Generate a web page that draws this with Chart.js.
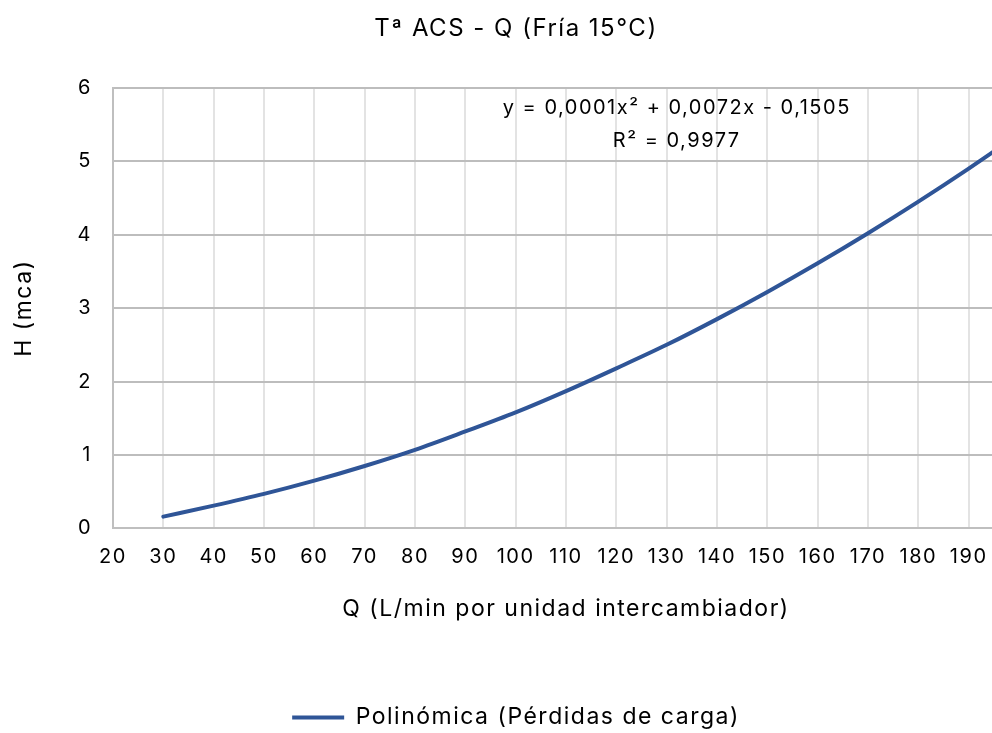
<!DOCTYPE html>
<html>
<head>
<meta charset="utf-8">
<script src="https://cdn.jsdelivr.net/npm/chart.js@4"></script>
<style>
  html, body { margin: 0; padding: 0; background: #fff; overflow: hidden; }
  #wrap { width: 992px; height: 733px; overflow: hidden; }
</style>
</head>
<body>
<div id="wrap"><canvas id="c" width="1036" height="733"></canvas></div>
<script>
// Q (L/min) vs H (mca)
const qValues = [30, 40, 50, 60, 70, 80, 90, 100, 110, 120, 130, 140, 150, 160, 170, 180, 190, 200];
const hValues = [0.16, 0.31, 0.47, 0.65, 0.85, 1.07, 1.32, 1.58, 1.87, 2.18, 2.50, 2.85, 3.22, 3.61, 4.02, 4.45, 4.90, 5.37];

const chartTitle = 'Tª ACS - Q (Fría 15°C)';
const xTitle = 'Q (L/min por unidad intercambiador)';
const yTitle = 'H (mca)';
const seriesLabel = 'Polinómica (Pérdidas de carga)';
const trendLines = ['y = 0,0001x² + 0,0072x - 0,1505', 'R² = 0,9977'];

const FONT = 'Inter, "Open Sans", sans-serif';
const BLUE = '#2f5597';
const SPACING = '1.5px'; // reference font is wider than anything installed

// widen glyph spacing for measuring and drawing
const spacing = {
  id: 'spacing',
  beforeLayout(chart) { chart.ctx.letterSpacing = SPACING; },
  beforeDraw(chart) { chart.ctx.letterSpacing = SPACING; },
};

// trendline equation inside the plot
const trendLabel = {
  id: 'trendLabel',
  afterDatasetsDraw(chart) {
    const { ctx, scales } = chart;
    const x = scales.x.getPixelForValue(132);
    ctx.save();
    ctx.fillStyle = '#000';
    ctx.font = '20px ' + FONT;
    ctx.textAlign = 'center';
    ctx.textBaseline = 'middle';
    ctx.fillText(trendLines[0], x, scales.y.getPixelForValue(5.73));
    ctx.fillText(trendLines[1], x, scales.y.getPixelForValue(5.28));
    ctx.restore();
  }
};

new Chart(document.getElementById('c'), {
  type: 'line',
  data: {
    datasets: [{
      label: seriesLabel,
      data: qValues.map((q, i) => ({ x: q, y: hValues[i] })),
      borderColor: BLUE,
      backgroundColor: BLUE,
      borderWidth: 4,
      borderCapStyle: 'round',
      pointRadius: 0,
      cubicInterpolationMode: 'monotone',
    }],
  },
  options: {
    responsive: false,
    animation: false,
    devicePixelRatio: 1,
    layout: { padding: { left: 12, right: 16, top: 0, bottom: -6 } },
    plugins: {
      title: {
        display: true,
        text: chartTitle,
        color: '#000',
        font: { family: FONT, size: 24, weight: 'normal' },
        padding: { top: 14, bottom: 45 },
      },
      legend: {
        position: 'bottom',
        labels: {
          color: '#000',
          font: { family: FONT, size: 23 },
          usePointStyle: true,
          pointStyle: 'line',
          pointStyleWidth: 52,
          padding: 0,
        },
      },
      tooltip: { enabled: false },
    },
    scales: {
      x: {
        type: 'linear',
        min: 20, max: 200,
        ticks: {
          stepSize: 10, color: '#000', font: { family: FONT, size: 20 }, padding: 17, maxRotation: 0,
          // 200 sits past the right edge of the picture
          callback: v => (v >= 200 ? '' : v),
        },
        grid: { color: '#e3e3e3', lineWidth: 2, drawTicks: false },
        border: { color: '#bfbfbf', width: 2 },
        title: {
          display: true, text: xTitle, color: '#000',
          font: { family: FONT, size: 23 },
          padding: { top: 9, bottom: 83 },
        },
      },
      y: {
        min: 0, max: 6,
        ticks: { stepSize: 1, color: '#000', font: { family: FONT, size: 20 }, padding: 21 },
        grid: { color: '#bdbdbd', lineWidth: 2, drawTicks: false },
        border: { color: '#bfbfbf', width: 2 },
        title: {
          display: true, text: yTitle, color: '#000',
          font: { family: FONT, size: 23 },
          padding: { top: -2, bottom: 0 },
        },
        afterFit(scale) { scale.width = 101; },
      },
    },
  },
  plugins: [spacing, trendLabel],
});
</script>
</body>
</html>
